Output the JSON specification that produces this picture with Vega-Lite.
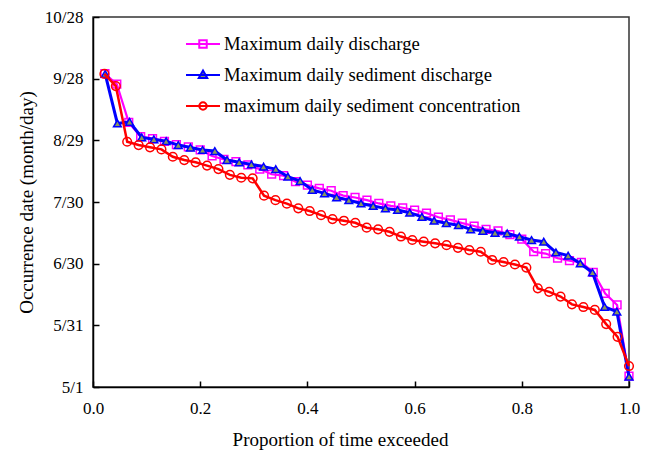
{
  "$schema": "https://vega.github.io/schema/vega-lite/v6.json",
  "width": 536,
  "height": 370,
  "autosize": "none",
  "padding": {"left": 93, "top": 17, "right": 23, "bottom": 64},
  "background": "white",
  "config": {
    "font": "Liberation Serif",
    "view": {"stroke": "#333", "strokeWidth": 1.5},
    "axis": {"grid": false, "domainColor": "#000", "domainWidth": 1.5, "tickColor": "#000", "tickWidth": 1.5, "tickSize": -6, "labelColor": "#000", "titleColor": "#000", "labelFont": "Liberation Serif", "titleFont": "Liberation Serif", "labelFontSize": 17, "titleFontSize": 19, "titleFontWeight": "normal", "labelFlush": false, "labelOverlap": false}
  },
  "data": {"values": [
    {"series": "Maximum daily discharge", "p": 0.0222, "d": 152.4},
    {"series": "Maximum daily discharge", "p": 0.0444, "d": 147.4},
    {"series": "Maximum daily discharge", "p": 0.0667, "d": 128.7},
    {"series": "Maximum daily discharge", "p": 0.0889, "d": 121.8},
    {"series": "Maximum daily discharge", "p": 0.1111, "d": 120.8},
    {"series": "Maximum daily discharge", "p": 0.1333, "d": 119.5},
    {"series": "Maximum daily discharge", "p": 0.1556, "d": 117.9},
    {"series": "Maximum daily discharge", "p": 0.1778, "d": 116.8},
    {"series": "Maximum daily discharge", "p": 0.2, "d": 115.4},
    {"series": "Maximum daily discharge", "p": 0.2222, "d": 112.4},
    {"series": "Maximum daily discharge", "p": 0.2444, "d": 110.7},
    {"series": "Maximum daily discharge", "p": 0.2667, "d": 109.6},
    {"series": "Maximum daily discharge", "p": 0.2889, "d": 108.1},
    {"series": "Maximum daily discharge", "p": 0.3111, "d": 106.0},
    {"series": "Maximum daily discharge", "p": 0.3333, "d": 103.5},
    {"series": "Maximum daily discharge", "p": 0.3556, "d": 102.8},
    {"series": "Maximum daily discharge", "p": 0.3778, "d": 99.9},
    {"series": "Maximum daily discharge", "p": 0.4, "d": 98.2},
    {"series": "Maximum daily discharge", "p": 0.4222, "d": 96.6},
    {"series": "Maximum daily discharge", "p": 0.4444, "d": 95.5},
    {"series": "Maximum daily discharge", "p": 0.4667, "d": 93.1},
    {"series": "Maximum daily discharge", "p": 0.4889, "d": 92.2},
    {"series": "Maximum daily discharge", "p": 0.5111, "d": 90.9},
    {"series": "Maximum daily discharge", "p": 0.5333, "d": 89.3},
    {"series": "Maximum daily discharge", "p": 0.5556, "d": 88.1},
    {"series": "Maximum daily discharge", "p": 0.5778, "d": 87.2},
    {"series": "Maximum daily discharge", "p": 0.6, "d": 86.0},
    {"series": "Maximum daily discharge", "p": 0.6222, "d": 84.6},
    {"series": "Maximum daily discharge", "p": 0.6444, "d": 82.6},
    {"series": "Maximum daily discharge", "p": 0.6667, "d": 81.3},
    {"series": "Maximum daily discharge", "p": 0.6889, "d": 79.7},
    {"series": "Maximum daily discharge", "p": 0.7111, "d": 78.3},
    {"series": "Maximum daily discharge", "p": 0.7333, "d": 76.7},
    {"series": "Maximum daily discharge", "p": 0.7556, "d": 75.9},
    {"series": "Maximum daily discharge", "p": 0.7778, "d": 74.1},
    {"series": "Maximum daily discharge", "p": 0.8, "d": 71.9},
    {"series": "Maximum daily discharge", "p": 0.8222, "d": 65.8},
    {"series": "Maximum daily discharge", "p": 0.8444, "d": 64.9},
    {"series": "Maximum daily discharge", "p": 0.8667, "d": 62.7},
    {"series": "Maximum daily discharge", "p": 0.8889, "d": 61.5},
    {"series": "Maximum daily discharge", "p": 0.9111, "d": 60.6},
    {"series": "Maximum daily discharge", "p": 0.9333, "d": 55.8},
    {"series": "Maximum daily discharge", "p": 0.9556, "d": 45.5},
    {"series": "Maximum daily discharge", "p": 0.9778, "d": 39.9},
    {"series": "Maximum daily discharge", "p": 1.0, "d": 5.3},
    {"series": "Maximum daily sediment discharge", "p": 0.0227, "d": 152.3},
    {"series": "Maximum daily sediment discharge", "p": 0.0455, "d": 128.2},
    {"series": "Maximum daily sediment discharge", "p": 0.0682, "d": 129.0},
    {"series": "Maximum daily sediment discharge", "p": 0.0909, "d": 121.4},
    {"series": "Maximum daily sediment discharge", "p": 0.1136, "d": 120.5},
    {"series": "Maximum daily sediment discharge", "p": 0.1364, "d": 119.6},
    {"series": "Maximum daily sediment discharge", "p": 0.1591, "d": 117.7},
    {"series": "Maximum daily sediment discharge", "p": 0.1818, "d": 116.5},
    {"series": "Maximum daily sediment discharge", "p": 0.2045, "d": 115.3},
    {"series": "Maximum daily sediment discharge", "p": 0.2273, "d": 114.8},
    {"series": "Maximum daily sediment discharge", "p": 0.25, "d": 110.4},
    {"series": "Maximum daily sediment discharge", "p": 0.2727, "d": 109.3},
    {"series": "Maximum daily sediment discharge", "p": 0.2955, "d": 108.3},
    {"series": "Maximum daily sediment discharge", "p": 0.3182, "d": 107.2},
    {"series": "Maximum daily sediment discharge", "p": 0.3409, "d": 106.0},
    {"series": "Maximum daily sediment discharge", "p": 0.3636, "d": 102.3},
    {"series": "Maximum daily sediment discharge", "p": 0.3864, "d": 100.2},
    {"series": "Maximum daily sediment discharge", "p": 0.4091, "d": 95.9},
    {"series": "Maximum daily sediment discharge", "p": 0.4318, "d": 94.2},
    {"series": "Maximum daily sediment discharge", "p": 0.4545, "d": 92.3},
    {"series": "Maximum daily sediment discharge", "p": 0.4773, "d": 90.9},
    {"series": "Maximum daily sediment discharge", "p": 0.5, "d": 89.3},
    {"series": "Maximum daily sediment discharge", "p": 0.5227, "d": 88.1},
    {"series": "Maximum daily sediment discharge", "p": 0.5455, "d": 86.9},
    {"series": "Maximum daily sediment discharge", "p": 0.5682, "d": 86.1},
    {"series": "Maximum daily sediment discharge", "p": 0.5909, "d": 84.8},
    {"series": "Maximum daily sediment discharge", "p": 0.6136, "d": 82.8},
    {"series": "Maximum daily sediment discharge", "p": 0.6364, "d": 80.9},
    {"series": "Maximum daily sediment discharge", "p": 0.6591, "d": 79.7},
    {"series": "Maximum daily sediment discharge", "p": 0.6818, "d": 78.7},
    {"series": "Maximum daily sediment discharge", "p": 0.7045, "d": 76.7},
    {"series": "Maximum daily sediment discharge", "p": 0.7273, "d": 76.0},
    {"series": "Maximum daily sediment discharge", "p": 0.75, "d": 75.0},
    {"series": "Maximum daily sediment discharge", "p": 0.7727, "d": 74.7},
    {"series": "Maximum daily sediment discharge", "p": 0.7955, "d": 73.1},
    {"series": "Maximum daily sediment discharge", "p": 0.8182, "d": 71.5},
    {"series": "Maximum daily sediment discharge", "p": 0.8409, "d": 70.7},
    {"series": "Maximum daily sediment discharge", "p": 0.8636, "d": 65.5},
    {"series": "Maximum daily sediment discharge", "p": 0.8864, "d": 63.9},
    {"series": "Maximum daily sediment discharge", "p": 0.9091, "d": 60.1},
    {"series": "Maximum daily sediment discharge", "p": 0.9318, "d": 55.7},
    {"series": "Maximum daily sediment discharge", "p": 0.9545, "d": 39.0},
    {"series": "Maximum daily sediment discharge", "p": 0.9773, "d": 36.7},
    {"series": "Maximum daily sediment discharge", "p": 1.0, "d": 5.0},
    {"series": "maximum daily sediment concentration", "p": 0.0213, "d": 152.3},
    {"series": "maximum daily sediment concentration", "p": 0.0426, "d": 146.4},
    {"series": "maximum daily sediment concentration", "p": 0.0638, "d": 119.3},
    {"series": "maximum daily sediment concentration", "p": 0.0851, "d": 117.7},
    {"series": "maximum daily sediment concentration", "p": 0.1064, "d": 116.6},
    {"series": "maximum daily sediment concentration", "p": 0.1277, "d": 115.6},
    {"series": "maximum daily sediment concentration", "p": 0.1489, "d": 112.0},
    {"series": "maximum daily sediment concentration", "p": 0.1702, "d": 110.4},
    {"series": "maximum daily sediment concentration", "p": 0.1915, "d": 109.3},
    {"series": "maximum daily sediment concentration", "p": 0.2128, "d": 107.7},
    {"series": "maximum daily sediment concentration", "p": 0.234, "d": 106.0},
    {"series": "maximum daily sediment concentration", "p": 0.2553, "d": 103.2},
    {"series": "maximum daily sediment concentration", "p": 0.2766, "d": 101.8},
    {"series": "maximum daily sediment concentration", "p": 0.2979, "d": 101.5},
    {"series": "maximum daily sediment concentration", "p": 0.3191, "d": 93.1},
    {"series": "maximum daily sediment concentration", "p": 0.3404, "d": 90.9},
    {"series": "maximum daily sediment concentration", "p": 0.3617, "d": 89.2},
    {"series": "maximum daily sediment concentration", "p": 0.383, "d": 86.9},
    {"series": "maximum daily sediment concentration", "p": 0.4043, "d": 85.6},
    {"series": "maximum daily sediment concentration", "p": 0.4255, "d": 83.6},
    {"series": "maximum daily sediment concentration", "p": 0.4468, "d": 81.7},
    {"series": "maximum daily sediment concentration", "p": 0.4681, "d": 80.9},
    {"series": "maximum daily sediment concentration", "p": 0.4894, "d": 79.9},
    {"series": "maximum daily sediment concentration", "p": 0.5106, "d": 77.5},
    {"series": "maximum daily sediment concentration", "p": 0.5319, "d": 76.7},
    {"series": "maximum daily sediment concentration", "p": 0.5532, "d": 75.5},
    {"series": "maximum daily sediment concentration", "p": 0.5745, "d": 73.2},
    {"series": "maximum daily sediment concentration", "p": 0.5957, "d": 71.5},
    {"series": "maximum daily sediment concentration", "p": 0.617, "d": 70.7},
    {"series": "maximum daily sediment concentration", "p": 0.6383, "d": 69.9},
    {"series": "maximum daily sediment concentration", "p": 0.6596, "d": 69.0},
    {"series": "maximum daily sediment concentration", "p": 0.6809, "d": 67.7},
    {"series": "maximum daily sediment concentration", "p": 0.7021, "d": 66.6},
    {"series": "maximum daily sediment concentration", "p": 0.7234, "d": 65.8},
    {"series": "maximum daily sediment concentration", "p": 0.7447, "d": 61.8},
    {"series": "maximum daily sediment concentration", "p": 0.766, "d": 60.8},
    {"series": "maximum daily sediment concentration", "p": 0.7872, "d": 59.6},
    {"series": "maximum daily sediment concentration", "p": 0.8085, "d": 58.1},
    {"series": "maximum daily sediment concentration", "p": 0.8298, "d": 48.0},
    {"series": "maximum daily sediment concentration", "p": 0.8511, "d": 46.3},
    {"series": "maximum daily sediment concentration", "p": 0.8723, "d": 44.0},
    {"series": "maximum daily sediment concentration", "p": 0.8936, "d": 40.2},
    {"series": "maximum daily sediment concentration", "p": 0.9149, "d": 38.9},
    {"series": "maximum daily sediment concentration", "p": 0.9362, "d": 37.5},
    {"series": "maximum daily sediment concentration", "p": 0.9574, "d": 30.6},
    {"series": "maximum daily sediment concentration", "p": 0.9787, "d": 24.4},
    {"series": "maximum daily sediment concentration", "p": 1.0, "d": 10.2}
  ]},
  "encoding": {
    "x": {"field": "p", "type": "quantitative", "scale": {"domain": [0, 1], "nice": false, "zero": false},
      "axis": {"title": "Proportion of time exceeded", "values": [0, 0.2, 0.4, 0.6, 0.8, 1], "format": ".1f", "labelPadding": 19, "titlePadding": 14, "titleX": 247}},
    "y": {"field": "d", "type": "quantitative", "scale": {"domain": [0, 180], "nice": false, "zero": false},
      "axis": {"title": "Occurrence date (month/day)", "values": [0, 30, 60, 90, 120, 150, 180], "labelExpr": "['5/1','5/31','6/30','7/30','8/29','9/28','10/28'][round(datum.value/30)]", "labelPadding": 16, "titlePadding": 8}}
  },
  "layer": [
    {
      "transform": [{"filter": "datum.series === 'Maximum daily discharge'"}],
      "mark": {"type": "line", "strokeWidth": 2.2},
      "encoding": {"color": {"field": "series", "type": "nominal",
        "scale": {"domain": ["Maximum daily discharge", "Maximum daily sediment discharge", "maximum daily sediment concentration"], "range": ["#FF00FF", "#0000FF", "#FF0000"]},
        "legend": {"title": null, "orient": "none", "legendX": 92, "legendY": 9, "padding": 0, "symbolSize": 1156, "symbolStrokeWidth": 2, "labelFont": "Liberation Serif", "labelFontSize": 18.7, "labelColor": "#000", "labelOffset": 3, "rowPadding": 3, "labelLimit": 400,
          "encode": {"symbols": {"update": {
            "shape": {"signal": "datum.value === 'Maximum daily discharge' ? 'M-1,0H1M-0.22,-0.22H0.22V0.22H-0.22Z' : datum.value === 'Maximum daily sediment discharge' ? 'M-1,0H1M0,-0.27L0.25,0.17L-0.25,0.17Z' : 'M-1,0H1M0.22,0A0.22,0.22,0,1,1,-0.22,0A0.22,0.22,0,1,1,0.22,0Z'"},
            "fill": {"signal": "datum.value === 'Maximum daily sediment discharge' ? '#8A9A5B' : 'transparent'"},
            "strokeWidth": {"value": 2}
          }}}}}}
    },
    {
      "transform": [{"filter": "datum.series === 'Maximum daily discharge'"}],
      "mark": {"type": "point", "shape": "square", "size": 60, "stroke": "#FF00FF", "fill": "transparent", "strokeWidth": 1.5, "opacity": 1}
    },
    {
      "transform": [{"filter": "datum.series === 'Maximum daily sediment discharge'"}],
      "mark": {"type": "line", "strokeWidth": 3},
      "encoding": {"color": {"field": "series", "type": "nominal"}}
    },
    {
      "transform": [{"filter": "datum.series === 'Maximum daily sediment discharge'"}],
      "mark": {"type": "point", "shape": "triangle-up", "size": 60, "stroke": "#0000FF", "fill": "#8A9A5B", "strokeWidth": 1.5, "opacity": 1}
    },
    {
      "transform": [{"filter": "datum.series === 'maximum daily sediment concentration'"}],
      "mark": {"type": "line", "strokeWidth": 2.5},
      "encoding": {"color": {"field": "series", "type": "nominal"}}
    },
    {
      "transform": [{"filter": "datum.series === 'maximum daily sediment concentration'"}],
      "mark": {"type": "point", "shape": "circle", "size": 75, "stroke": "#FF0000", "fill": "transparent", "strokeWidth": 1.5, "opacity": 1}
    }
  ]
}
